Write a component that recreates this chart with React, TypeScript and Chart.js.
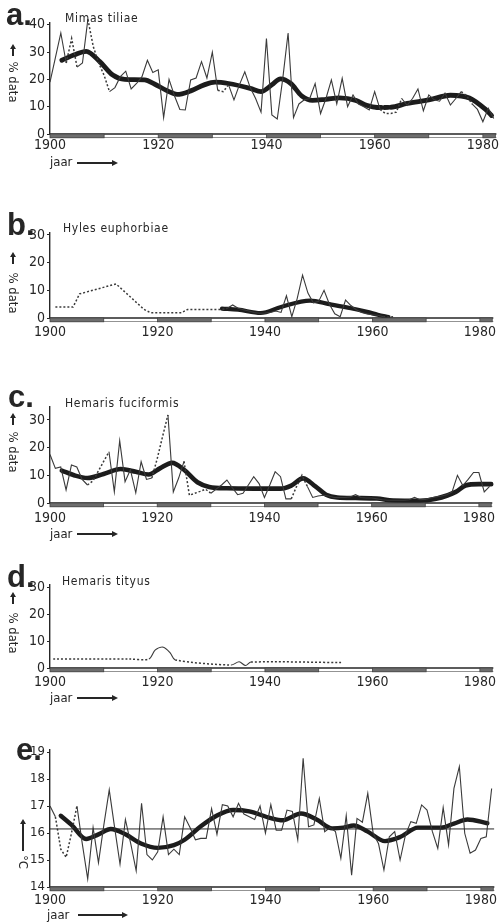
import React, { useEffect, useRef } from "react";
import { Chart, registerables } from "chart.js";
Chart.register(...registerables);

const FONT = '"DejaVu Sans Condensed", "DejaVu Sans", sans-serif';
const INK = "#262626";

// ---------- shared axis data ----------
const xTicks = [1900, 1920, 1940, 1960, 1980];
const decadeBands = [[1900, 1910], [1920, 1930], [1940, 1950], [1960, 1970], [1980, 1982.3]];
const years = [
  1900, 1901, 1902, 1903, 1904, 1905, 1906, 1907, 1908, 1909,
  1910, 1911, 1912, 1913, 1914, 1915, 1916, 1917, 1918, 1919,
  1920, 1921, 1922, 1923, 1924, 1925, 1926, 1927, 1928, 1929,
  1930, 1931, 1932, 1933, 1934, 1935, 1936, 1937, 1938, 1939,
  1940, 1941, 1942, 1943, 1944, 1945, 1946, 1947, 1948, 1949,
  1950, 1951, 1952, 1953, 1954, 1955, 1956, 1957, 1958, 1959,
  1960, 1961, 1962, 1963, 1964, 1965, 1966, 1967, 1968, 1969,
  1970, 1971, 1972, 1973, 1974, 1975, 1976, 1977, 1978, 1979,
  1980, 1981, 1982,
];

// ---------- a. Mimas tiliae ----------
const yTicksPct = [0, 10, 20, 30];
const yTicksA = [0, 10, 20, 30, 40];
const thinA = [
  19, 28, 37, 26, 35, 24.5, 26, 42, 32, 26,
  21.5, 15.5, 17, 21, 23, 16.5, 18.5, 21, 27, 22.5,
  23.5, 6, 20, 14, 9, 8.8, 19.8, 20.5, 26.5, 20.5,
  30, 16, 15.5, 18, 12.5, 18, 22.8, 17, 13, 8,
  35, 7, 5.5, 20, 37, 6, 11, 12.5, 13, 18.5,
  7.5, 13, 19.8, 11, 20.4, 10, 14.3, 11, 10, 8.8,
  15.5, 9, 7.5, 7.5, 8, 13, 10.5, 13, 16.5, 8.5,
  14.3, 12.5, 12, 15, 10.6, 13, 15.5, 14, 11, 9,
  4.5, 9.4, 5.7,
];
const dottedA = [[1903, 1905], [1907, 1911], [1931, 1933], [1961, 1965], [1976, 1978]];
const smoothYearsA = [1902.2, 1904.5, 1906.7, 1909.2, 1911.6, 1913.8, 1917.5, 1919.3, 1921.5, 1923.5, 1926, 1928.5, 1930.5, 1933, 1937, 1939, 1941, 1942.6, 1944.5, 1946.5, 1948.5, 1951, 1953.5, 1956.5, 1958.5, 1960.5, 1963, 1966, 1970, 1974, 1977.5, 1980.5, 1981.6];
const smoothA = [27, 29, 30.3, 26.5, 21.6, 20, 19.8, 18.3, 16, 14.5, 15.8, 18, 19, 18.5, 16.7, 15.5, 18, 20.2, 18.5, 14, 12.3, 12.7, 13.2, 12.3, 10.5, 9.7, 9.8, 11.2, 12.5, 14.2, 13.2, 9, 6.8];
const smoothDashA = [[1960.5, 1963]];

// ---------- b. Hyles euphorbiae ----------
const yearsB = [1901, 1904.3, 1905.5, 1912.3, 1917.5, 1918.7, 1924.5, 1925.6, 1928.5, 1932, 1933, 1934, 1935, 1936, 1937, 1938, 1939, 1940, 1941, 1942, 1943, 1944, 1945, 1946, 1947, 1948, 1949, 1950, 1951, 1952, 1953, 1954, 1955, 1956, 1957, 1958, 1959, 1960, 1961, 1962, 1963, 1964];
const thinB = [4, 4, 8.7, 12.3, 3.1, 1.9, 1.9, 3.1, 3.1, 3.1, 3.5, 4.7, 3.5, 3, 2.5, 2, 1.7, 1.8, 2, 2.5, 2, 8, 0.5, 7, 15.5, 9, 5.5, 6, 10, 5, 1.5, 0.5, 6.5, 4.5, 3, 2, 1.5, 1.2, 1, 0.5, 0.3, 0.5];
const dottedB = [[1900, 1933], [1962, 1965]];
const smoothYearsB = [1932, 1935, 1939.2, 1943, 1948.4, 1952, 1956, 1959, 1961, 1963];
const smoothB = [3.4, 3, 1.8, 4, 6.3, 5, 3.5, 2.2, 1.2, 0.3];

// ---------- c. Hemaris fuciformis ----------
const thinC = [
  17.5, 12.5, 13, 4.7, 13.7, 13, 8.5, 6.5, 8, 11.5,
  15, 18.5, 4, 22.5, 7.7, 12, 3.7, 14.9, 8.5, 9,
  16, 24, 31.8, 4, 9, 15, 2.8, 3.5, 4.2, 5,
  3.5, 5, 6.5, 8.3, 5.5, 3, 3.5, 6.5, 9.5, 7,
  2, 6.5, 11.3, 9.5, 1.5, 1.5, 6, 10, 6, 2,
  2.5, 2.8, 2.5, 2, 2, 2, 2.2, 3, 2, 1.8,
  1.8, 1.5, 1.2, 1, 1, 1, 1, 1.2, 2, 1.2,
  1.3, 1.8, 2.2, 2.5, 3, 4, 10, 6.3, 8.5, 11,
  11, 4, 6,
];
const dottedC = [[1907, 1911], [1919, 1922], [1925, 1930], [1945, 1948]];
const smoothYearsC = [1902.2, 1904.5, 1907, 1910, 1913.2, 1916, 1918.4, 1920.5, 1922.8, 1925, 1927.5, 1929.7, 1933, 1938, 1943, 1945, 1947.2, 1949.5, 1951.5, 1953.6, 1957, 1961, 1964, 1969, 1972, 1975.7, 1977.5, 1980, 1982.3];
const smoothC = [11.7, 10, 9, 10.5, 12.3, 11.3, 10.3, 12.5, 14.5, 12, 7.5, 5.8, 5.3, 5.2, 5.2, 6.3, 8.9, 6, 3, 2, 1.8, 1.6, 0.9, 0.8, 1.5, 4, 6.3, 6.8, 6.8];

// ---------- d. Hemaris tityus ----------
const yearsD = [1900.6, 1915, 1918.4, 1919.6, 1921.1, 1922.4, 1923.3, 1933.7, 1935.2, 1936.4, 1937.4, 1954.5];
const thinD = [3.3, 3.3, 3.3, 6.7, 7.7, 5.5, 3, 1.1, 2.3, 0.9, 2.2, 2];
const dottedD = [[1900, 1918.4], [1923.3, 1933.7], [1937.4, 1955]];

// ---------- e. temperature ----------
const yTicksE = [14, 15, 16, 17, 18, 19];
const thinE = [
  17.0, 16.6, 15.4, 15.1, 16.0, 17.0, 15.6, 14.3, 16.2, 14.9,
  16.3, 17.6, 16.2, 14.85, 16.5, 15.6, 14.6, 17.1, 15.2, 15.0,
  15.3, 16.6, 15.2, 15.4, 15.2, 16.6, 16.2, 15.75, 15.8, 15.8,
  16.9, 15.95, 17.05, 17.0, 16.6, 17.1, 16.7, 16.6, 16.5, 17.0,
  16.0, 17.05, 16.1, 16.1, 16.85, 16.8, 15.75, 18.77, 16.23, 16.3,
  17.28, 16.05, 16.2, 16.05, 15.06, 16.64, 14.44, 16.54, 16.4, 17.47,
  15.99, 15.6, 14.63, 15.86, 16.05, 15.0, 15.93, 16.42, 16.36, 17.04,
  16.85, 16.05, 15.43, 16.94, 15.56, 17.65, 18.46, 15.99, 15.25, 15.37,
  15.8, 15.86, 17.65,
];
const dottedE = [[1901, 1905]];
const smoothYearsE = [1902, 1904, 1906.7, 1909, 1911.3, 1914, 1917, 1920, 1923, 1925, 1928, 1931, 1934, 1937, 1941, 1943.2, 1946.6, 1949.5, 1952.4, 1954.5, 1956.4, 1959, 1962.2, 1965, 1968.3, 1972.6, 1975, 1977.5, 1981.2];
const smoothE = [16.64, 16.3, 15.78, 15.95, 16.15, 15.95, 15.6, 15.45, 15.55, 15.75, 16.25, 16.65, 16.85, 16.8, 16.55, 16.47, 16.72, 16.5, 16.17, 16.2, 16.28, 16.05, 15.7, 15.85, 16.2, 16.2, 16.35, 16.5, 16.36];
const refYearsE = [1900, 1982.5];
const refE = [16.15, 16.15];

// ---------- helpers ----------
const X_MIN = 1900;
const X_MAX = 1982.5;
const AREA_LEFT = 50;
const AREA_RIGHT = 498.8;

const pts = (xs: number[], ys: number[]) => xs.map((x, i) => ({ x, y: ys[i] }));
const inRanges = (ranges: number[][], a: number, b: number) =>
  ranges.some(([s, e]) => a >= s - 1e-6 && b <= e + 1e-6);

function thinSet(xs: number[], ys: number[], dotted: number[][], tension = 0) {
  return {
    data: pts(xs, ys),
    borderColor: "#3a3a3a",
    borderWidth: 1.1,
    pointRadius: 0,
    tension,
    clip: false as any,
    segment: {
      borderDash: (ctx: any) =>
        inRanges(dotted, ctx.p0.parsed.x, ctx.p1.parsed.x) ? [2, 2] : undefined,
      borderWidth: (ctx: any) =>
        inRanges(dotted, ctx.p0.parsed.x, ctx.p1.parsed.x) ? 1.5 : undefined,
    },
  };
}
function smoothSet(xs: number[], ys: number[], width = 4.6, dashed: number[][] = []) {
  return {
    data: pts(xs, ys),
    borderColor: "#1c1c1c",
    borderWidth: width,
    pointRadius: 0,
    cubicInterpolationMode: "monotone" as const,
    clip: false as any,
    borderCapStyle: "round" as const,
    segment: {
      borderDash: (ctx: any) =>
        inRanges(dashed, ctx.p0.parsed.x, ctx.p1.parsed.x) ? [4, 3] : undefined,
    },
  };
}

const bandPlugin = {
  id: "decadeBand",
  afterDatasetsDraw(chart: any) {
    const { ctx, chartArea } = chart;
    const xs = chart.scales.x;
    const y0 = chartArea.bottom;
    ctx.save();
    ctx.strokeStyle = INK;
    ctx.lineWidth = 1.3;
    ctx.beginPath();
    ctx.moveTo(chartArea.left, y0);
    ctx.lineTo(chartArea.right, y0);
    ctx.stroke();
    ctx.lineWidth = 0.8;
    ctx.strokeStyle = "#777";
    ctx.beginPath();
    ctx.moveTo(chartArea.left, y0 + 3.5);
    ctx.lineTo(chartArea.right, y0 + 3.5);
    ctx.stroke();
    for (const [s, e] of decadeBands) {
      const a = xs.getPixelForValue(s);
      const b = xs.getPixelForValue(e);
      ctx.fillStyle = "#6e6e6e";
      ctx.fillRect(a, y0, b - a, 3.8);
      ctx.strokeStyle = "#444";
      ctx.lineWidth = 0.8;
      ctx.strokeRect(a, y0, b - a, 3.8);
    }
    ctx.restore();
  },
};

type PanelCfg = {
  top: number;
  height: number;
  zeroY: number;
  ppu: number;
  yMin: number;
  yMax: number;
  yTicks: number[];
  yFont: number;
  xPad: number;
  datasets: any[];
};

function PanelChart({ p }: { p: PanelCfg }) {
  const ref = useRef<HTMLCanvasElement>(null);
  useEffect(() => {
    const padTop = p.zeroY - (p.yMax - p.yMin) * p.ppu - p.top;
    const axisH = p.top + p.height - p.zeroY;
    const chart = new Chart(ref.current as HTMLCanvasElement, {
      type: "line",
      data: { datasets: p.datasets },
      options: {
        animation: false,
        responsive: false,
        devicePixelRatio: 1,
        layout: { padding: { top: padTop, right: 502 - AREA_RIGHT, left: 0, bottom: 0 } },
        plugins: { legend: { display: false }, tooltip: { enabled: false } },
        scales: {
          x: {
            type: "linear",
            min: X_MIN,
            max: X_MAX,
            afterFit: (s: any) => {
              s.height = axisH;
            },
            afterBuildTicks: (s: any) => {
              s.ticks = xTicks.map((v) => ({ value: v }));
            },
            ticks: {
              font: { family: FONT, size: 14 },
              color: INK,
              padding: p.xPad,
              maxRotation: 0,
              autoSkip: false,
              callback: (v: any) => String(v),
            },
            grid: { display: false, drawTicks: false },
            border: { display: false },
          },
          y: {
            type: "linear",
            min: p.yMin,
            max: p.yMax,
            afterFit: (s: any) => {
              s.width = AREA_LEFT;
            },
            afterBuildTicks: (s: any) => {
              s.ticks = p.yTicks.map((v) => ({ value: v }));
            },
            ticks: {
              font: { family: FONT, size: p.yFont },
              color: INK,
              padding: 2,
              callback: (v: any) => String(v),
            },
            grid: { drawOnChartArea: false, drawTicks: true, tickLength: 3, color: INK },
            border: { display: true, color: INK, width: 1.4 },
          },
        },
      } as any,
      plugins: [bandPlugin],
    });
    return () => chart.destroy();
  }, []);
  return (
    <canvas
      ref={ref}
      width={502}
      height={p.height}
      style={{ position: "absolute", left: 0, top: p.top, width: 502, height: p.height }}
    />
  );
}

const panels: PanelCfg[] = [
  {
    top: 0, height: 175, zeroY: 134, ppu: 2.73, yMin: 0, yMax: 40.6, yTicks: yTicksA, yFont: 14, xPad: 3,
    datasets: [thinSet(years, thinA, dottedA), smoothSet(smoothYearsA, smoothA, 4.8, smoothDashA)],
  },
  {
    top: 200, height: 145, zeroY: 318, ppu: 2.77, yMin: 0, yMax: 30.7, yTicks: yTicksPct, yFont: 14, xPad: 6,
    datasets: [thinSet(yearsB, thinB, dottedB), smoothSet(smoothYearsB, smoothB, 4.2)],
  },
  {
    top: 380, height: 165, zeroY: 503, ppu: 2.77, yMin: 0, yMax: 34.7, yTicks: yTicksPct, yFont: 14, xPad: 7,
    datasets: [thinSet(years, thinC, dottedC), smoothSet(smoothYearsC, smoothC, 4.6)],
  },
  {
    top: 560, height: 135, zeroY: 668, ppu: 2.7, yMin: 0, yMax: 30.7, yTicks: yTicksPct, yFont: 14, xPad: 6,
    datasets: [thinSet(yearsD, thinD, dottedD, 0.3)],
  },
  {
    top: 735, height: 187, zeroY: 887, ppu: 27, yMin: 14, yMax: 19.07, yTicks: yTicksE, yFont: 13, xPad: 5,
    datasets: [
      {
        data: pts(refYearsE, refE),
        borderColor: INK,
        borderWidth: 1,
        pointRadius: 0,
      },
      thinSet(years, thinE, dottedE),
      smoothSet(smoothYearsE, smoothE, 4.4),
    ],
  },
];

// ---------- text overlays ----------
const panelLetters = [
  { t: "a.", x: 6, b: 25 },
  { t: "b.", x: 7, b: 235 },
  { t: "c.", x: 8, b: 407 },
  { t: "d.", x: 7, b: 587 },
  { t: "e.", x: 16, b: 760 },
];
const speciesNames = [
  { t: "Mimas tiliae", x: 65, b: 22 },
  { t: "Hyles euphorbiae", x: 63, b: 232 },
  { t: "Hemaris fuciformis", x: 65, b: 407 },
  { t: "Hemaris tityus", x: 62, b: 585 },
];
const yTitles = [
  { t: "% data", x: 13, arrowTop: 44, arrowBottom: 56, cy: 82 },
  { t: "% data", x: 13, arrowTop: 252, arrowBottom: 264, cy: 293 },
  { t: "% data", x: 13, arrowTop: 413, arrowBottom: 425, cy: 452 },
  { t: "% data", x: 13, arrowTop: 592, arrowBottom: 604, cy: 633 },
  { t: "°C", x: 23, arrowTop: 819, arrowBottom: 851, cy: 862 },
];
const jaarLabels = [
  { x: 50, b: 166, ax0: 77, ax1: 118, ay: 163 },
  { x: 50, b: 538, ax0: 77, ax1: 118, ay: 534 },
  { x: 50, b: 702, ax0: 77, ax1: 118, ay: 698 },
  { x: 47, b: 919, ax0: 78, ax1: 128, ay: 915 },
];

function Txt({ x, b, size, bold, children, spacing = 0, family = FONT }: any) {
  return (
    <div
      style={{
        position: "absolute",
        left: x,
        top: b - 0.846 * size,
        fontFamily: family,
        fontSize: size,
        lineHeight: `${size}px`,
        fontWeight: bold ? 700 : 400,
        letterSpacing: spacing,
        color: INK,
        whiteSpace: "nowrap",
      }}
    >
      {children}
    </div>
  );
}

function UpArrow({ x, top, bottom }: any) {
  return (
    <>
      <div style={{ position: "absolute", left: x - 0.6, top: top + 3, width: 1.3, height: bottom - top - 3, background: INK }} />
      <div
        style={{
          position: "absolute",
          left: x - 3,
          top,
          width: 0,
          height: 0,
          borderLeft: "3px solid transparent",
          borderRight: "3px solid transparent",
          borderBottom: `5px solid ${INK}`,
        }}
      />
    </>
  );
}

function RightArrow({ x0, x1, y }: any) {
  return (
    <>
      <div style={{ position: "absolute", left: x0, top: y - 0.6, width: x1 - x0 - 4, height: 1.2, background: INK }} />
      <div
        style={{
          position: "absolute",
          left: x1 - 6,
          top: y - 3,
          width: 0,
          height: 0,
          borderTop: "3px solid transparent",
          borderBottom: "3px solid transparent",
          borderLeft: `6px solid ${INK}`,
        }}
      />
    </>
  );
}

export default function App() {
  return (
    <div style={{ position: "absolute", left: 0, top: 0, width: 502, height: 922, background: "#fff", overflow: "hidden" }}>
      {panels.map((p, i) => (
        <PanelChart key={i} p={p} />
      ))}
      {panelLetters.map((l, i) => (
        <Txt key={"l" + i} x={l.x} b={l.b} size={31} bold family='"Liberation Sans", Arial, sans-serif'>
          {l.t}
        </Txt>
      ))}
      {speciesNames.map((s, i) => (
        <Txt key={"s" + i} x={s.x} b={s.b} size={12} spacing={0.7}>
          {s.t}
        </Txt>
      ))}
      {yTitles.map((t, i) => (
        <React.Fragment key={"y" + i}>
          <UpArrow x={t.x} top={t.arrowTop} bottom={t.arrowBottom} />
          <div
            style={{
              position: "absolute",
              left: t.x,
              top: t.cy,
              transform: "translate(-50%, -50%) rotate(90deg)",
              fontFamily: FONT,
              fontSize: 13,
              lineHeight: "13px",
              color: INK,
              whiteSpace: "nowrap",
            }}
          >
            {t.t}
          </div>
        </React.Fragment>
      ))}
      {jaarLabels.map((j, i) => (
        <React.Fragment key={"j" + i}>
          <Txt x={j.x} b={j.b} size={13}>
            jaar
          </Txt>
          <RightArrow x0={j.ax0} x1={j.ax1} y={j.ay} />
        </React.Fragment>
      ))}
    </div>
  );
}
